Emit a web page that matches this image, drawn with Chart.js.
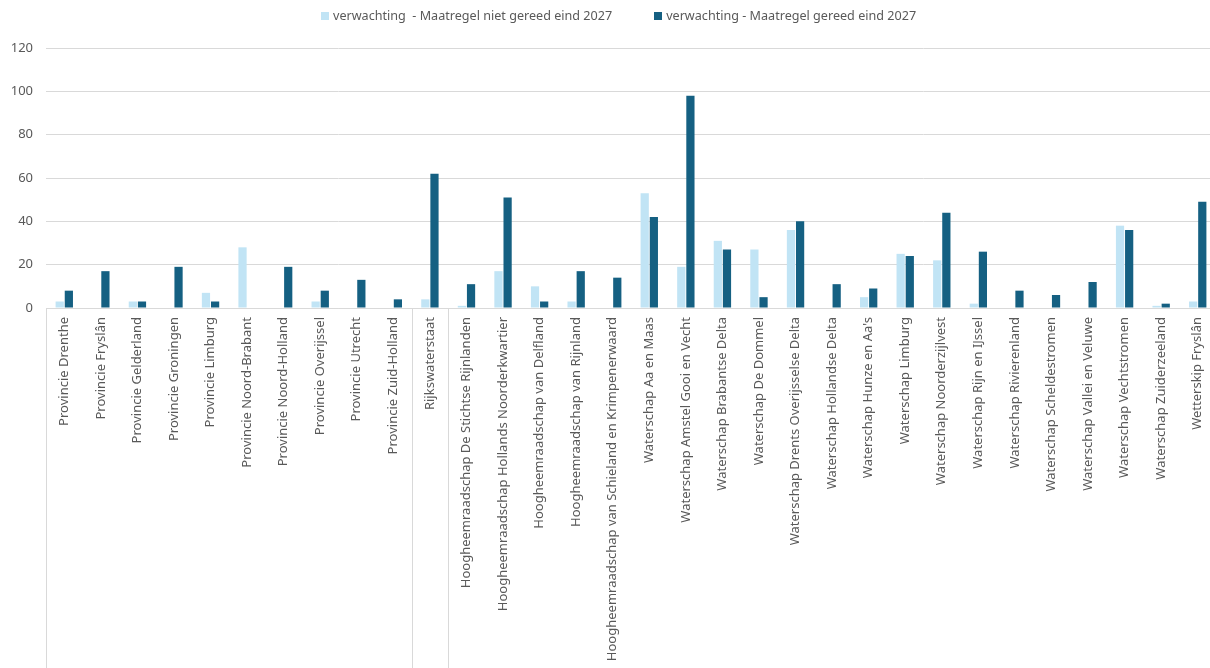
<!DOCTYPE html>
<html>
<head>
<meta charset="utf-8">
<script src="https://cdn.jsdelivr.net/npm/chart.js@4.4.1/dist/chart.umd.min.js"></script>
<style>
  body { margin: 0; background: #fff; overflow: hidden; }
  #wrap { position: relative; width: 1210px; height: 668px; overflow: hidden; }
  #legend { position: absolute; left: 321px; top: 7px; display: flex; gap: 42px;
            font-family: "Noto Sans", sans-serif; font-size: 12.6px; color: #595959; white-space: pre; }
  .item { display: flex; align-items: center; }
  .box { width: 8px; height: 8px; margin-right: 4px; }
</style>
</head>
<body>
<div id="wrap">
  <!-- plotvlak loopt net buiten beeld door, net als in het origineel -->
  <canvas id="chart" width="1216" height="668"></canvas>
  <div id="legend"></div>
</div>
<script>
// Categorieën (provincies, Rijkswaterstaat, waterschappen)
const categories = [
    'Provincie Drenthe', 'Provincie Fryslân', 'Provincie Gelderland', 'Provincie Groningen',
    'Provincie Limburg', 'Provincie Noord-Brabant', 'Provincie Noord-Holland', 'Provincie Overijssel',
    'Provincie Utrecht', 'Provincie Zuid-Holland',
    'Rijkswaterstaat',
    'Hoogheemraadschap De Stichtse Rijnlanden', 'Hoogheemraadschap Hollands Noorderkwartier',
    'Hoogheemraadschap van Delfland', 'Hoogheemraadschap van Rijnland',
    'Hoogheemraadschap van Schieland en Krimpenerwaard', 'Waterschap Aa en Maas',
    'Waterschap Amstel Gooi en Vecht', 'Waterschap Brabantse Delta', 'Waterschap De Dommel',
    'Waterschap Drents Overijsselse Delta', 'Waterschap Hollandse Delta', "Waterschap Hunze en Aa's",
    'Waterschap Limburg', 'Waterschap Noorderzijlvest', 'Waterschap Rijn en IJssel',
    'Waterschap Rivierenland', 'Waterschap Scheldestromen', 'Waterschap Vallei en Veluwe',
    'Waterschap Vechtstromen', 'Waterschap Zuiderzeeland', 'Wetterskip Fryslân'
];

const seriesNames = [
    'verwachting  - Maatregel niet gereed eind 2027',
    'verwachting - Maatregel gereed eind 2027'
];

const nietGereed = [3, 0, 3, 0, 7, 28, 0, 3, 0, 0,
    4,
    1, 17, 10, 3, 0, 53, 19, 31, 27, 36, 0, 5, 25, 22, 2, 0, 0, 0, 38, 1, 3];

const gereed = [8, 17, 3, 19, 3, 0, 19, 8, 13, 4,
    62,
    11, 51, 3, 17, 14, 42, 98, 27, 5, 40, 11, 9, 24, 44, 26, 8, 6, 12, 36, 2, 49];

const yTicks = [0, 20, 40, 60, 80, 100, 120];

// groepsgrenzen op de categorie-as (na index)
const groupBreaks = [9, 10];

const colors = ['#C1E4F5', '#156082'];

// Scheidingslijnen onder de as
const separators = {
    id: 'separators',
    afterDraw(chart) {
        const ctx = chart.ctx;
        const x = chart.scales.x;
        const area = chart.chartArea;
        const xs = [area.left];
        groupBreaks.forEach(i => {
            xs.push((x.getPixelForValue(i) + x.getPixelForValue(i + 1)) / 2);
        });
        ctx.save();
        ctx.strokeStyle = '#D9D9D9';
        ctx.lineWidth = 1;
        xs.forEach(px => {
            const p = Math.round(px) + 0.5;
            ctx.beginPath();
            ctx.moveTo(p, area.bottom);
            ctx.lineTo(p, chart.height);
            ctx.stroke();
        });
        ctx.restore();
    }
};

const chart = new Chart(document.getElementById('chart').getContext('2d'), {
    type: 'bar',
    data: {
        labels: categories,
        datasets: [
            { label: seriesNames[0], data: nietGereed, backgroundColor: colors[0] },
            { label: seriesNames[1], data: gereed, backgroundColor: colors[1] }
        ]
    },
    options: {
        responsive: false,
        animation: false,
        layout: { padding: { top: 48, right: 0, left: 0, bottom: 0 } },
        datasets: { bar: { categoryPercentage: 0.5, barPercentage: 0.9 } },
        plugins: {
            legend: { display: false },
            tooltip: { enabled: false }
        },
        scales: {
            x: {
                grid: { display: false, drawTicks: false },
                border: { display: true, color: '#D9D9D9' },
                ticks: {
                    autoSkip: false,
                    minRotation: 90,
                    maxRotation: 90,
                    padding: 9,
                    color: '#595959',
                    font: { family: 'Noto Sans', size: 13 }
                },
                afterFit(s) {
                    s.height = 360;
                    s.paddingLeft = 0;
                    s.paddingRight = 0;
                }
            },
            y: {
                min: 0,
                max: 120,
                grid: { color: '#D9D9D9', drawTicks: false },
                border: { display: false },
                ticks: {
                    padding: 13,
                    color: '#595959',
                    font: { family: 'Noto Sans', size: 13 }
                },
                afterBuildTicks(s) { s.ticks = yTicks.map(v => ({ value: v })); },
                afterFit(s) { s.width = 46; }
            }
        }
    },
    plugins: [separators]
});

// Legenda
const legend = document.getElementById('legend');
chart.data.datasets.forEach(ds => {
    const item = document.createElement('div');
    item.className = 'item';
    item.innerHTML = '<span class="box" style="background:' + ds.backgroundColor + '"></span><span>' + ds.label + '</span>';
    legend.appendChild(item);
});
</script>
</body>
</html>
